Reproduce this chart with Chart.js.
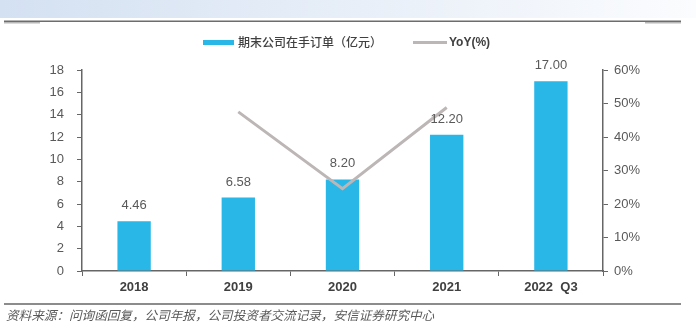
<!DOCTYPE html>
<html>
<head>
<meta charset="utf-8">
<script src="https://cdn.jsdelivr.net/npm/chart.js@4.4.0/dist/chart.umd.min.js"></script>
<style>
  html, body { margin: 0; padding: 0; background: #fff; }
  #wrap { width: 696px; height: 327px; position: relative; }
</style>
</head>
<body>
<div id="wrap"><canvas id="orderChart" width="696" height="327"></canvas></div>
<script>
const years = ['2018', '2019', '2020', '2021', '2022  Q3'];
const orders = [4.46, 6.58, 8.20, 12.20, 17.00];
const yoy = [null, 47.5, 24.6, 48.8, null];
const leftTicks = [0, 2, 4, 6, 8, 10, 12, 14, 16, 18];
const rightTicks = [0, 10, 20, 30, 40, 50, 60];

const barColor = '#29b7e8';
const lineColor = '#bdb6b6';
const sourceText = '资料来源：问询函回复，公司年报，公司投资者交流记录，安信证券研究中心';

// frame, legend, value labels and source line
const decor = {
    id: 'decor',
    beforeDraw(chart) {
        const c = chart.ctx;
        c.save();
        const g = c.createLinearGradient(0, 0, 696, 0);
        g.addColorStop(0, '#d4e1f2');
        g.addColorStop(1, '#fbfcfe');
        c.fillStyle = g;
        c.fillRect(0, 0, 696, 18);
        c.fillStyle = '#6d6d6d';
        c.fillRect(4, 20.5, 677, 1.5);
        c.fillStyle = '#b8b8b8';
        c.fillRect(4, 22, 36, 1.5);
        c.fillRect(645, 22, 36, 1.5);
        c.fillStyle = '#8c8c8c';
        c.fillRect(4, 303, 677, 2);
        c.restore();
    },
    afterDraw(chart) {
        const c = chart.ctx;
        c.save();
        // legend
        c.fillStyle = barColor;
        c.fillRect(203, 40, 31, 5);
        c.fillStyle = '#404040';
        c.textBaseline = 'middle';
        c.textAlign = 'left';
        c.font = '500 12px "Noto Sans CJK SC"';
        c.fillText('期末公司在手订单（亿元）', 238, 42.5);
        c.strokeStyle = lineColor;
        c.lineWidth = 3;
        c.beginPath();
        c.moveTo(413, 42.5);
        c.lineTo(447, 42.5);
        c.stroke();
        c.font = 'bold 12px "Liberation Sans", Arial';
        c.fillText('YoY(%)', 449, 42.5);
        // value labels
        const meta = chart.getDatasetMeta(0);
        c.font = '13px "Liberation Sans", Arial';
        c.fillStyle = '#595959';
        c.textAlign = 'center';
        c.textBaseline = 'alphabetic';
        meta.data.forEach((bar, i) => {
            c.fillText(orders[i].toFixed(2), bar.x, bar.y - 12);
        });
        // source
        c.textAlign = 'left';
        c.textBaseline = 'middle';
        c.fillStyle = '#595959';
        c.font = 'italic 12.6px "Noto Sans CJK SC"';
        c.fillText(sourceText, 6, 315);
        c.restore();
    }
};

const ctx = document.getElementById('orderChart').getContext('2d');
const orderChart = new Chart(ctx, {
    data: {
        labels: years,
        datasets: [{
            type: 'bar',
            label: '期末公司在手订单（亿元）',
            data: orders,
            backgroundColor: barColor,
            barPercentage: 0.32,
            categoryPercentage: 1,
            yAxisID: 'y',
            order: 1
        }, {
            type: 'line',
            label: 'YoY(%)',
            data: yoy,
            borderColor: lineColor,
            borderWidth: 3,
            pointRadius: 0,
            tension: 0,
            yAxisID: 'y2',
            order: 0
        }]
    },
    options: {
        responsive: false,
        animation: false,
        layout: { padding: { top: 70, left: 0, right: 0, bottom: 0 } },
        plugins: {
            legend: { display: false },
            tooltip: { enabled: false }
        },
        scales: {
            x: {
                offset: true,
                grid: { offset: true, drawOnChartArea: false, tickLength: 5, color: '#666' },
                border: { color: '#666', width: 1.5 },
                ticks: { color: '#404040', padding: 4, font: { family: '"Liberation Sans", Arial', size: 13, weight: 'bold' } },
                afterFit(scale) { scale.height = 56; }
            },
            y: {
                position: 'left',
                min: 0,
                max: 18,
                afterBuildTicks(scale) { scale.ticks = leftTicks.map(v => ({ value: v })); },
                grid: { drawOnChartArea: false, tickLength: 5, color: '#666' },
                border: { color: '#666', width: 1.5 },
                ticks: { color: '#595959', padding: 13, font: { family: '"Liberation Sans", Arial', size: 13 } },
                afterFit(scale) { scale.width = 82; }
            },
            y2: {
                position: 'right',
                min: 0,
                max: 60,
                afterBuildTicks(scale) { scale.ticks = rightTicks.map(v => ({ value: v })); },
                grid: { drawOnChartArea: false, tickLength: 5, color: '#666' },
                border: { color: '#666', width: 1.5 },
                ticks: {
                    color: '#595959',
                    padding: 6,
                    font: { family: '"Liberation Sans", Arial', size: 13 },
                    callback: v => v + '%'
                },
                afterFit(scale) { scale.width = 93; }
            }
        }
    },
    plugins: [decor]
});
</script>
</body>
</html>
